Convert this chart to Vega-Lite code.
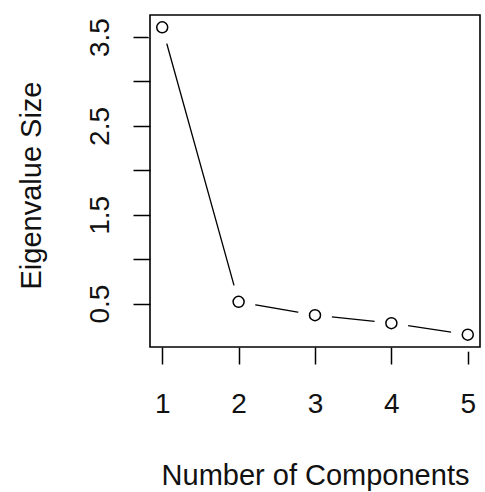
{
  "$schema": "https://vega.github.io/schema/vega-lite/v6.json",
  "autosize": {"type": "none"},
  "padding": {"left": 150, "top": 15, "right": 5, "bottom": 145},
  "width": 330,
  "height": 332,
  "background": "white",
  "config": {
    "view": {"stroke": null},
    "font": "Liberation Sans",
    "axis": {
      "labelFont": "Liberation Sans",
      "titleFont": "Liberation Sans",
      "labelColor": "#111111",
      "titleColor": "#111111",
      "titleFontWeight": "normal",
      "tickColor": "black",
      "tickWidth": 1.5,
      "domain": false,
      "grid": false,
      "zindex": 1
    }
  },
  "data": {
    "values": [
      {"component": 1, "eigenvalue": 3.61},
      {"component": 2, "eigenvalue": 0.52},
      {"component": 3, "eigenvalue": 0.37},
      {"component": 4, "eigenvalue": 0.28},
      {"component": 5, "eigenvalue": 0.15}
    ]
  },
  "layer": [
    {
      "mark": {"type": "line", "color": "black", "strokeWidth": 1.3},
      "encoding": {
        "x": {
          "field": "component",
          "type": "quantitative",
          "scale": {"domain": [0.84, 5.16], "nice": false, "zero": false},
          "axis": {
            "values": [1, 2, 3, 4, 5],
            "title": "Number of Components",
            "format": "d",
            "tickSize": 17,
            "labelPadding": 48,
            "labelBaseline": "alphabetic",
            "labelFontSize": 28,
            "labelFlush": false,
            "labelOverlap": false,
            "titleFontSize": 29,
            "titleBaseline": "alphabetic",
            "titleY": 137
          }
        },
        "y": {
          "field": "eigenvalue",
          "type": "quantitative",
          "scale": {"domain": [0.0116, 3.7484], "nice": false, "zero": false},
          "axis": {
            "values": [0.5, 1, 1.5, 2, 2.5, 3, 3.5],
            "labelExpr": "(round(datum.value*10) % 10) == 5 ? format(datum.value, '.1f') : ''",
            "title": "Eigenvalue Size",
            "tickSize": 17,
            "labelPadding": 25,
            "labelAngle": 270,
            "labelAlign": "center",
            "labelBaseline": "alphabetic",
            "labelFontSize": 28,
            "labelFlush": false,
            "labelOverlap": false,
            "titleFontSize": 29,
            "titleAngle": 270,
            "titleBaseline": "alphabetic",
            "titleX": -110,
            "titleY": 170
          }
        }
      }
    },
    {
      "mark": {"type": "circle", "fill": "white", "fillOpacity": 1, "strokeWidth": 0, "size": 1156},
      "encoding": {
        "x": {"field": "component", "type": "quantitative"},
        "y": {"field": "eigenvalue", "type": "quantitative"}
      }
    },
    {
      "mark": {"type": "point", "shape": "circle", "filled": false, "stroke": "black", "opacity": 1, "size": 121, "strokeWidth": 1.5},
      "encoding": {
        "x": {"field": "component", "type": "quantitative"},
        "y": {"field": "eigenvalue", "type": "quantitative"}
      }
    },
    {
      "data": {"values": [{"box": 1}]},
      "mark": {"type": "rect", "fill": "transparent", "stroke": "black", "strokeWidth": 1.6},
      "encoding": {
        "x": {"datum": 0.84, "type": "quantitative"},
        "x2": {"datum": 5.16},
        "y": {"datum": 0.0116, "type": "quantitative"},
        "y2": {"datum": 3.7484}
      }
    }
  ]
}
